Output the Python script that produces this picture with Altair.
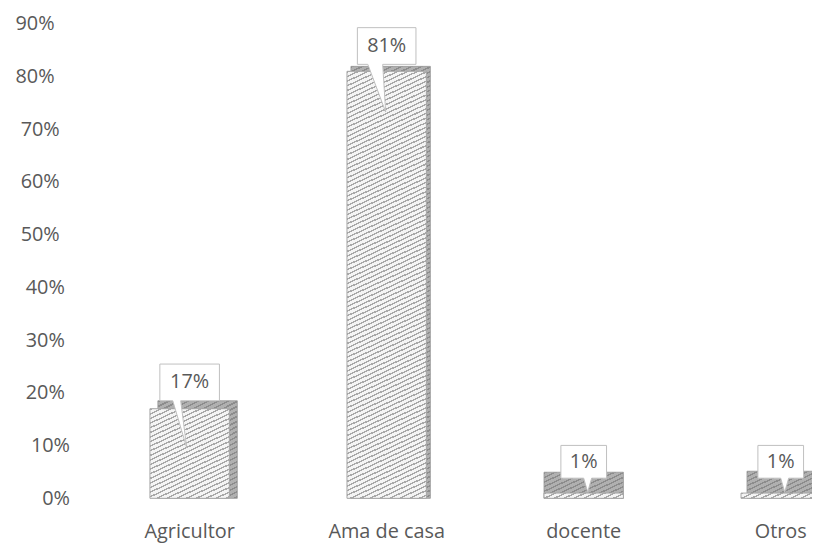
import math
import altair as alt
import pandas as pd

# ---- data ----
categories = ["Agricultor", "Ama de casa", "docente", "Otros"]
values = [0.17, 0.81, 0.01, 0.01]
labels = ["17%", "81%", "1%", "1%"]
y_ticks = [0.0, 0.1, 0.2, 0.3, 0.4, 0.5, 0.6, 0.7, 0.8, 0.9]

# ---- layout / style ----
W, H = 732, 478
YMAX = 0.9
BAR_W = 80
STEP = 198.5
FIRST_START = 71
PI = 1 - BAR_W / STEP
X_RANGE = [FIRST_START, FIRST_START + STEP * (len(categories) - PI)]
FONT = "Open Sans"
TXT = "#595959"

# 3D depth per bar: (dx, dy top, dy bottom)
depth = {
    "Agricultor": (8, 8, 8),
    "Ama de casa": (4, 5, 5),
    "docente": (0, 21, 0),
    "Otros": (6, 22, 0),
}
# callout geometry per bar (pixels, relative to bar top centre)
callout = {
    "Agricultor": dict(hw=30, gap=8, bh=37, p1=-17, p2=-9, tx=-3, ty=39),
    "Ama de casa": dict(hw=29.5, gap=7, bh=37, p1=-19, p2=-4, tx=-1, ty=41),
    "docente": dict(hw=23, gap=15, bh=33, p1=0, p2=8, tx=4, ty=-1),
    "Otros": dict(hw=23, gap=15, bh=33, p1=0, p2=8, tx=4, ty=-1),
}


def hatch(w, h, bg, line, period=4.2, lw=1.4, theta=25):
    th = math.radians(theta)
    s, c = math.sin(th), math.cos(th)
    smax = w * s + h * c
    Q = (w * s) ** 2 + (h * c) ** 2
    k = smax / Q
    a, b = k * w * s, k * h * c
    stops = []
    pos = 0.0
    while pos < smax:
        t0 = pos / smax
        t1 = min(1.0, (pos + lw) / smax)
        t2 = min(1.0, (pos + period) / smax)
        stops += [
            {"offset": round(t0, 5), "color": line},
            {"offset": round(t1, 5), "color": line},
            {"offset": round(t1, 5), "color": bg},
            {"offset": round(t2, 5), "color": bg},
        ]
        pos += period
    return {"gradient": "linear", "x1": 0, "y1": 0, "x2": a, "y2": b, "stops": stops}


R = 60.0


def callout_path(hw, gap, bh, p1, p2, tx, ty):
    pts = [(-hw, -gap - bh), (hw, -gap - bh), (hw, -gap), (p2, -gap), (tx, ty),
           (p1, -gap), (-hw, -gap)]
    d = "M" + " L".join(f"{x / R:.4f},{y / R:.4f}" for x, y in pts) + " Z"
    return d


# y labels drift left towards the top (3D perspective of the axis):
# pad right-aligned labels with no-break spaces closed by a word joiner
NBSP, WJ = "\u00a0", "\u2060"
expr = "datum.label"
for t in y_ticks:
    n = int(round(t * 17.8 / 5.2))
    if n > 0:
        expr = f"(abs(datum.value - {t}) < 0.001 ? datum.label + '{NBSP * n}{WJ}' : {expr})"

df = pd.DataFrame({"cat": categories, "value": values, "label": labels})

x_enc = alt.X(
    "cat:N",
    sort=categories,
    scale=alt.Scale(domain=categories, range=X_RANGE, paddingInner=PI, paddingOuter=0),
    axis=alt.Axis(title=None, labelAngle=0, domain=False, ticks=False, labelPadding=23,
                  labelFontSize=20, labelColor=TXT, labelFont=FONT),
)
y_enc = alt.Y(
    "value:Q",
    stack=None,
    scale=alt.Scale(domain=[0, YMAX], nice=False, zero=True),
    axis=alt.Axis(values=y_ticks, format=".0%", labelExpr=expr, title=None, grid=False,
                  domain=False, ticks=False, labelPadding=10,
                  labelFontSize=20, labelColor=TXT, labelFont=FONT),
)

base = alt.Chart(df).encode(x=x_enc, y=y_enc)

layers = []
for cat, v in zip(categories, values):
    dx, dy, dy2 = depth[cat]
    h = v / YMAX * H
    sub = base.transform_filter(alt.datum.cat == cat)
    back = sub.mark_bar(
        fill=hatch(BAR_W, h + dy - dy2, "#b0b0b0", "#8c8c8c"),
        stroke="#969696", strokeWidth=0.8,
        xOffset=dx, yOffset=-dy, y2Offset=-dy2,
    )
    front = sub.mark_bar(
        fill=hatch(BAR_W, h, "#f4f4f4", "#a8a8a8"),
        stroke="#a6a6a6", strokeWidth=1,
    )
    layers += [back, front]

for cat in categories:
    cg = callout[cat]
    sub = base.transform_filter(alt.datum.cat == cat)
    box = sub.mark_point(
        shape=callout_path(**cg), size=(2 * R) ** 2, filled=True,
        fill="white", stroke="#bfbfbf", strokeWidth=1, opacity=1, fillOpacity=1,
    )
    txt = sub.mark_text(
        font=FONT, fontSize=20, color=TXT, align="center", baseline="middle",
        dy=-(cg["gap"] + cg["bh"] / 2),
    ).encode(text="label:N")
    layers += [box, txt]

chart = alt.layer(*layers).properties(
    width=W, height=H,
    background="white",
    autosize=alt.AutoSizeParams(type="none"),
    padding={"left": 72, "top": 14, "right": 6, "bottom": 43},
).configure_view(strokeWidth=0, stroke="transparent")

chart.save("out.html", embed_options={"renderer": "svg", "actions": False})
